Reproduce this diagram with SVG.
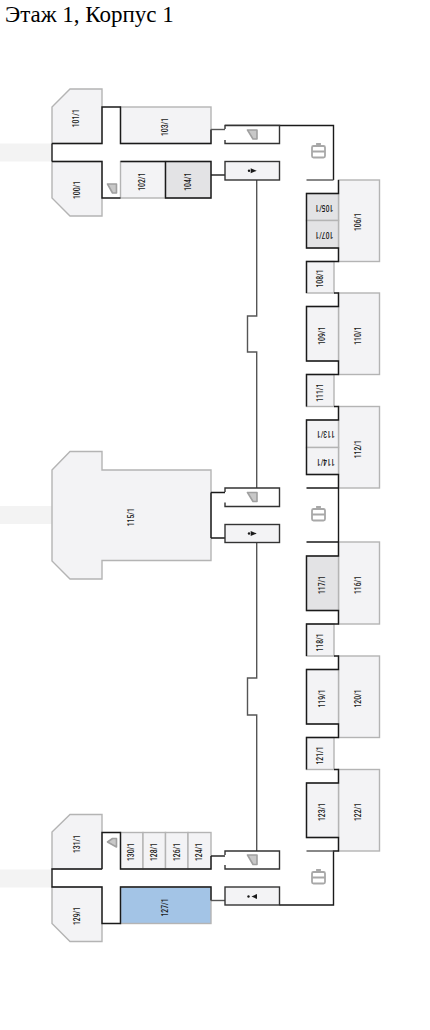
<svg xmlns="http://www.w3.org/2000/svg" width="430" height="1030" viewBox="0 0 430 1030">
<style>
.u{fill:#f3f3f5;stroke:#b4b4b4;stroke-width:1.4}
.d{fill:#e3e3e5}
.b{fill:#a3c4e6}
.w{fill:none;stroke:#1a1a1a;stroke-width:1.4}
.g{fill:none;stroke:#555;stroke-width:1.4}
.c{fill:#f3f3f3}
.t{font:500 8.5px "Roboto","Liberation Sans",sans-serif;fill:#1a1a1a;text-anchor:middle;dominant-baseline:central}
.s{fill:#c8c8c8;stroke:#a0a0a0;stroke-width:1.6;stroke-linejoin:round}
.e{fill:#1a1a1a}
.l{fill:none;stroke:#a8a8a8;stroke-width:1.8}
.n{fill:#fff;stroke:#333;stroke-width:1.4}
.m{fill:#f3f3f5;stroke:#333;stroke-width:1.4}
</style>
<rect width="430" height="1030" fill="#fff"/>
<text x="5" y="22" font-family="Liberation Serif,serif" font-size="23" fill="#000">Этаж 1, Корпус 1</text>
<g id="corridors"><rect class="c" y="143.5" width="52" height="18"/><rect class="c" y="506" width="52" height="18"/><rect class="c" y="869.5" width="52" height="18"/></g>
<g id="u101"><path class="u" d="M52 107L70 89H102V143.5H52Z"/><text class="t" transform="translate(76.700 118.300) rotate(-90) scale(.8 1)">101/1</text></g>
<g id="u100"><path class="u" d="M52 161.5H102V216H70L52 198Z"/><text class="t" transform="translate(77 190) rotate(-90) scale(.8 1)">100/1</text></g>
<g id="u103"><rect class="u" x="120.500" y="107" width="90.500" height="36.500"/><text class="t" transform="translate(165.700 127) rotate(-90) scale(.8 1)">103/1</text></g>
<g id="u102"><rect class="u" x="120.500" y="161.500" width="45" height="36.500"/><text class="t" transform="translate(142 181.700) rotate(-90) scale(.8 1)">102/1</text></g>
<g id="u104"><rect class="u d" x="165.500" y="161.500" width="45.500" height="36.500"/><text class="t" transform="translate(188 181.700) rotate(-90) scale(.8 1)">104/1</text></g>
<g id="u106"><rect class="u" x="338.500" y="180" width="41" height="81.500"/><text class="t" transform="translate(358 222) rotate(-90) scale(.8 1)">106/1</text></g>
<g id="u105"><rect class="u d" x="306.500" y="193.500" width="32" height="27"/><text class="t" transform="translate(324.300 207.300) rotate(180) scale(.8 1)">105/1</text></g>
<g id="u107"><rect class="u d" x="306.500" y="220.500" width="32" height="27.500"/><text class="t" transform="translate(324.300 234.300) rotate(180) scale(.8 1)">107/1</text></g>
<g id="u108"><rect class="u" x="306.500" y="261.500" width="27.500" height="31.500"/><text class="t" transform="translate(320 278.500) rotate(-90) scale(.8 1)">108/1</text></g>
<g id="u110"><rect class="u" x="338.500" y="293" width="41" height="81.500"/><text class="t" transform="translate(358.300 335.700) rotate(-90) scale(.8 1)">110/1</text></g>
<g id="u109"><rect class="u" x="306.500" y="306.500" width="32" height="54.500"/><text class="t" transform="translate(322.300 335.700) rotate(-90) scale(.8 1)">109/1</text></g>
<g id="u111"><rect class="u" x="306.500" y="374.500" width="27.500" height="32"/><text class="t" transform="translate(320 392.700) rotate(-90) scale(.8 1)">111/1</text></g>
<g id="u112"><rect class="u" x="338.500" y="406.500" width="41" height="81.500"/><text class="t" transform="translate(358.300 449.300) rotate(-90) scale(.8 1)">112/1</text></g>
<g id="u113"><rect class="u" x="306.500" y="420" width="32" height="27.500"/><text class="t" transform="translate(325.700 434) rotate(180) scale(.8 1)">113/1</text></g>
<g id="u114"><rect class="u" x="306.500" y="447.500" width="32" height="27"/><text class="t" transform="translate(325.700 461.300) rotate(180) scale(.8 1)">114/1</text></g>
<g id="u115"><path class="u" d="M52 470L70 451.500H102V470H211V560.500H102V579H70L52 561Z"/><text class="t" transform="translate(131.700 517.300) rotate(-90) scale(.8 1)">115/1</text></g>
<g id="u116"><rect class="u" x="338.500" y="542" width="41" height="82"/><text class="t" transform="translate(358.300 585) rotate(-90) scale(.8 1)">116/1</text></g>
<g id="u117"><rect class="u d" x="306.500" y="556" width="32" height="54.500"/><text class="t" transform="translate(322.300 585) rotate(-90) scale(.8 1)">117/1</text></g>
<g id="u118"><rect class="u" x="306.500" y="624" width="27.500" height="32"/><text class="t" transform="translate(320 642.500) rotate(-90) scale(.8 1)">118/1</text></g>
<g id="u120"><rect class="u" x="338.500" y="656" width="41" height="81.500"/><text class="t" transform="translate(358.300 698.500) rotate(-90) scale(.8 1)">120/1</text></g>
<g id="u119"><rect class="u" x="306.500" y="669.500" width="32" height="54.500"/><text class="t" transform="translate(322.300 698.500) rotate(-90) scale(.8 1)">119/1</text></g>
<g id="u121"><rect class="u" x="306.500" y="737.500" width="27.500" height="32"/><text class="t" transform="translate(320 755.500) rotate(-90) scale(.8 1)">121/1</text></g>
<g id="u122"><rect class="u" x="338.500" y="769.500" width="41" height="81.500"/><text class="t" transform="translate(358.300 812) rotate(-90) scale(.8 1)">122/1</text></g>
<g id="u123"><rect class="u" x="306.500" y="783" width="32" height="54.500"/><text class="t" transform="translate(322.300 812) rotate(-90) scale(.8 1)">123/1</text></g>
<g id="u131"><path class="u" d="M52 832L70 814.500H102V869H52Z"/><text class="t" transform="translate(77 844) rotate(-90) scale(.8 1)">131/1</text></g>
<g id="u129"><path class="u" d="M52 887H102V941.500H70L52 923.500Z"/><text class="t" transform="translate(77 916) rotate(-90) scale(.8 1)">129/1</text></g>
<g id="u130"><rect class="u" x="120.500" y="832.500" width="22.500" height="36.500"/><text class="t" transform="translate(131 852) rotate(-90) scale(.8 1)">130/1</text></g>
<g id="u128"><rect class="u" x="143" y="832.500" width="22.500" height="36.500"/><text class="t" transform="translate(154 852) rotate(-90) scale(.8 1)">128/1</text></g>
<g id="u126"><rect class="u" x="165.500" y="832.500" width="22.500" height="36.500"/><text class="t" transform="translate(177 852) rotate(-90) scale(.8 1)">126/1</text></g>
<g id="u124"><rect class="u" x="188" y="832.500" width="23" height="36.500"/><text class="t" transform="translate(199 852) rotate(-90) scale(.8 1)">124/1</text></g>
<g id="u127"><rect class="u b" x="120.500" y="887" width="90.500" height="36.500"/><text class="t" transform="translate(165.700 907.500) rotate(-90) scale(.8 1)">127/1</text></g>
<g id="connectors">
<path class="w" d="M52 143.500H102V107H120.500V143.500H211V129.500M52 143.500V161.500M52 161.500H102V198H120.500M120.500 161.500H211V198H165.500V161.500"/>
<path class="g" d="M211 129.500H225"/>
<path class="w" d="M211 175H225"/>
<path class="w" d="M225 125.500H333.500V180"/>
<path class="g" d="M306.500 180H333.500"/>
<path class="w" d="M338.500 180V193.500H306.500V248H338.500V261.500H306.500V293M334 293H338.500V306.500H306.500V361H338.500V374.500H306.500V406.500M334 406.500H338.500V420H306.500V474.500H338.500V488H306.500M338.500 488V542H306.500M338.500 542V556H306.500V610.500H338.500V624H306.500V656M334 656H338.500V669.500H306.500V724H338.500V737.500H306.500V769.500M334 769.500H338.500V783H306.500V837.500H338.500V851H333.500V905H279.500"/>
<path class="g" d="M306.500 851H333.500"/>
<path class="g" d="M256.700 180V316H247.500V352H256.700V488M256.700 542.500V678H247.500V715H256.700V851"/>
<path class="w" d="M211 492.500V538M211 492.500H225M211 538H225"/>
<path class="w" d="M102 869H52V887H102V923.500H120.500V887H211V900.500M52 869V887M102 869V832.500H120.500V869H211V856"/>
<path class="w" d="M211 856H225"/>
<path class="g" d="M211 900.500H225"/>
</g>
<g id="stairs1"><path class="n" d="M225 129V125.500H279.500V143.500H225V140"/><path class="s" d="M247.500 130H257V139H253Z"/></g>
<g id="lift1"><rect class="m" x="225" y="161.500" width="54.500" height="18.500"/><circle class="e" cx="249" cy="170.800" r="1.200"/><path class="e" d="M250.700 168.300L256.700 170.800L250.700 173.300Z"/></g>
<g id="stairs2"><path class="n" d="M225 492V488H279.500V506.500H225V502.500"/><path class="s" d="M247.500 492.500H257V501.500H253Z"/></g>
<g id="lift2"><rect class="m" x="225" y="524.500" width="54.500" height="18"/><circle class="e" cx="249" cy="533.500" r="1.200"/><path class="e" d="M250.700 531L256.700 533.500L250.700 536Z"/></g>
<g id="stairs3"><path class="n" d="M225 855V851H279.500V869H225V865"/><path class="s" d="M247.500 855H257V864.500H253Z"/></g>
<g id="lift3"><rect class="m" x="225" y="887" width="54.500" height="18"/><circle class="e" cx="248.500" cy="896.500" r="1.200"/><path class="e" d="M257 894L251.500 896.500L257 899Z"/></g>
<path id="stairs4" class="s" d="M107.500 184H116.500V193H112.500Z"/>
<path id="stairs5" class="s" d="M107.500 842L112.500 838.500H116.500V847Z"/>
<g id="bag1"><rect class="l" x="312" y="146" width="13" height="11.500" rx="1.500"/><path class="l" d="M312 151.500H325M317 146V144H320V146"/></g>
<g id="bag2"><rect class="l" x="312" y="509" width="13" height="11.500" rx="1.500"/><path class="l" d="M312 514.500H325M317 509V507H320V509"/></g>
<g id="bag3"><rect class="l" x="312" y="872" width="13" height="11.500" rx="1.500"/><path class="l" d="M312 877.500H325M317 872V870H320V872"/></g>
</svg>
